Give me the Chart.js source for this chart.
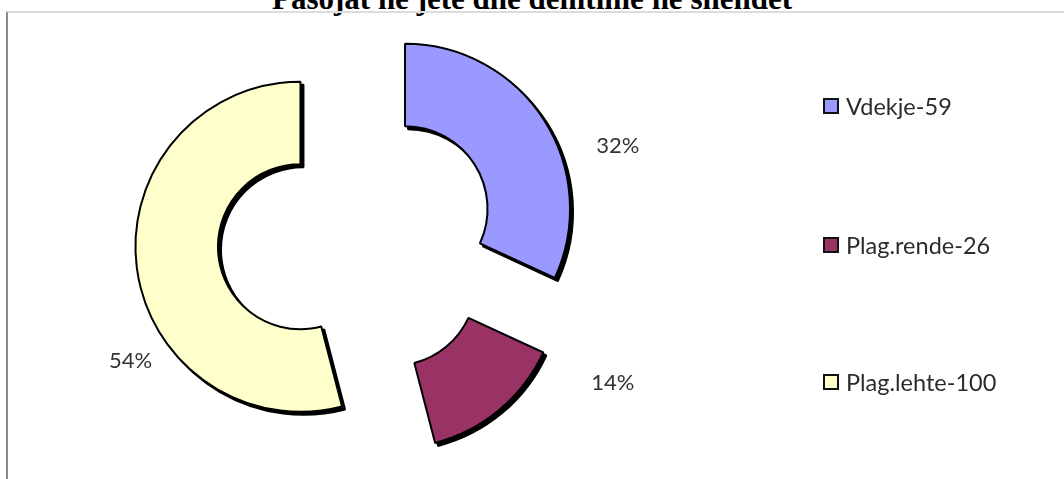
<!DOCTYPE html>
<html>
<head>
<meta charset="utf-8">
<script src="https://cdn.jsdelivr.net/npm/chart.js@4.4.1/dist/chart.umd.min.js"></script>
<style>
    html, body { margin: 0; padding: 0; background: #fff; }
    #wrap { position: relative; width: 1064px; height: 479px; overflow: hidden; background: #fff; }
    #title {
        position: absolute; left: 0; top: -19px; width: 1064px; line-height: 34px;
        text-align: center; font: bold 31px "Liberation Serif", "Times New Roman", serif; color: #000;
    }
    #frame {
        position: absolute; left: 6px; top: 11px; width: 1058px; height: 468px; box-sizing: border-box;
        border-top: 2px solid #dcdcdc; border-left: 2px solid #8a8a8a;
    }
    #chart { position: absolute; left: 0; top: 0; }
    .leg-item { position: absolute; left: 823px; height: 30px; display: flex; align-items: center;
        font: 23.5px Lato, "Open Sans", sans-serif; color: #2b2b2b; }
    .leg-box { width: 12px; height: 12px; border: 2px solid #111; margin-right: 7px; }
</style>
</head>
<body>
<div id="wrap">
    <div id="title">Pasojat ne jete dhe demtime ne shendet</div>
    <div id="frame"></div>
    <canvas id="chart" width="1064" height="479"></canvas>
</div>

<script>
// --- dados do gráfico ---
const categorias = ['Vdekje', 'Plag.rende', 'Plag.lehte'];
const valores = [59, 26, 100];
const cores = ['#9999FF', '#993366', '#FFFFCC'];

// posição vertical (centro) de cada item da legenda
const legendaTopos = [106, 245, 382];

// legenda em HTML (itens espaçados como no original)
const wrap = document.getElementById('wrap');
categorias.forEach((nome, i) => {
    const item = document.createElement('div');
    item.className = 'leg-item';
    item.style.top = (legendaTopos[i] - 15) + 'px';
    item.innerHTML = `<span class="leg-box" style="background:${cores[i]}"></span>${nome}-${valores[i]}`;
    wrap.appendChild(item);
});

// Plugin: separa as fatias (explode) e desenha com sombra preta
const explodePlugin = {
    id: 'explode',
    beforeDatasetDraw(chart, args, opts) {
        const ctx = chart.ctx;
        args.meta.data.forEach(arc => {
            const mid = (arc.startAngle + arc.endAngle) / 2;
            const dx = Math.cos(mid) * opts.distance;
            const dy = Math.sin(mid) * opts.distance;
            const o = arc.options;
            const bg = o.backgroundColor;

            // 1. sombra (mesma fatia em preto, deslocada)
            ctx.save();
            ctx.translate(dx + opts.shadow, dy + opts.shadow);
            o.backgroundColor = '#000';
            arc.draw(ctx);
            o.backgroundColor = bg;
            ctx.restore();

            // 2. fatia normal
            ctx.save();
            ctx.translate(dx, dy);
            arc.draw(ctx);
            ctx.restore();
        });
        return false;
    },
    afterDatasetsDraw(chart, args, opts) {
        const ctx = chart.ctx;
        const meta = chart.getDatasetMeta(0);
        const data = chart.data.datasets[0].data;
        const total = data.reduce((s, v) => s + v, 0);
        ctx.save();
        ctx.font = opts.font;
        ctx.fillStyle = opts.color;
        ctx.textAlign = 'center';
        ctx.textBaseline = 'middle';
        meta.data.forEach((arc, i) => {
            const mid = (arc.startAngle + arc.endAngle) / 2;
            const cx = arc.x + Math.cos(mid) * opts.distance;
            const cy = arc.y + Math.sin(mid) * opts.distance;
            const pos = opts.labelAt[i];
            const a = pos.angle * Math.PI / 180;
            const pct = Math.round(data[i] / total * 100) + '%';
            ctx.fillText(pct, cx + Math.cos(a) * pos.dist, cy + Math.sin(a) * pos.dist);
        });
        ctx.restore();
    }
};

new Chart(document.getElementById('chart'), {
    type: 'doughnut',
    data: {
        labels: categorias,
        datasets: [{
            data: valores,
            backgroundColor: cores,
            borderColor: '#000',
            borderWidth: 2
        }]
    },
    options: {
        responsive: false,
        animation: false,
        radius: 165,
        cutout: '50%',
        layout: { padding: { left: 0, right: 350, top: 0, bottom: 0 } },
        plugins: {
            legend: { display: false },
            tooltip: { enabled: false },
            explode: {
                distance: 57,
                shadow: 3,
                font: '22px Lato, "Open Sans", sans-serif',
                color: '#333',
                labelAt: [
                    { angle: -16.5, dist: 222 },
                    { angle: 24.5, dist: 241 },
                    { angle: 146, dist: 205 }
                ]
            }
        }
    },
    plugins: [explodePlugin]
});
</script>
</body>
</html>
